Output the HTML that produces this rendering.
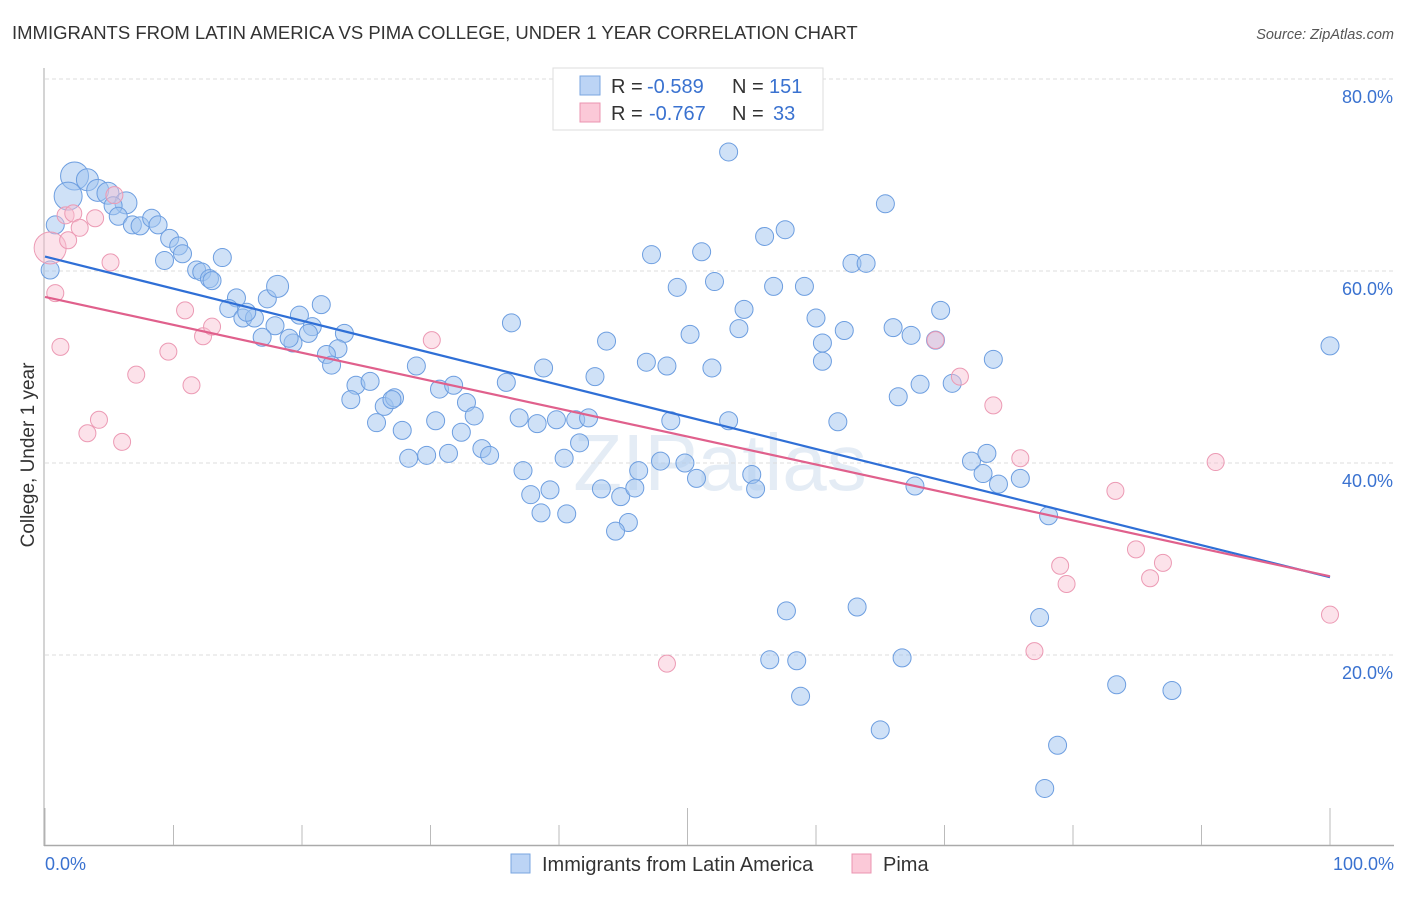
<!DOCTYPE html>
<html><head><meta charset="utf-8"><style>
body{margin:0;background:#fff;font-family:"Liberation Sans",sans-serif;}
svg text{font-family:"Liberation Sans",sans-serif;}
</style></head><body>
<svg id="chart" width="1406" height="892" xmlns="http://www.w3.org/2000/svg">
<text x="12" y="39" font-size="18.5" fill="#333">IMMIGRANTS FROM LATIN AMERICA VS PIMA COLLEGE, UNDER 1 YEAR CORRELATION CHART</text>
<text x="1394" y="39" font-size="14.5" fill="#555" font-style="italic" text-anchor="end">Source: ZipAtlas.com</text>
<text x="720" y="490" font-size="80" fill="#e4ecf5" text-anchor="middle" font-family="Liberation Serif">ZIPatlas</text>
<g id="grid"></g>
<g id="axes"></g>
<g id="marks"></g>
<text transform="translate(34,455) rotate(-90)" font-size="19" fill="#333" text-anchor="middle">College, Under 1 year</text>
<g>
<rect x="553" y="68" width="270" height="62" fill="#fff" stroke="#ddd"/>
<rect x="580" y="76" width="20" height="19" fill="#bcd4f5" stroke="#7aa6e0"/>
<rect x="580" y="103" width="20" height="19" fill="#fbc9d8" stroke="#eb94b0"/>
<text x="611" y="93" font-size="20" fill="#333">R =</text>
<text x="647" y="93" font-size="20" fill="#3a72d0">-0.589</text>
<text x="732" y="93" font-size="20" fill="#333">N =</text>
<text x="769" y="93" font-size="20" fill="#3a72d0">151</text>
<text x="611" y="120" font-size="20" fill="#333">R =</text>
<text x="649" y="120" font-size="20" fill="#3a72d0">-0.767</text>
<text x="732" y="120" font-size="20" fill="#333">N =</text>
<text x="773" y="120" font-size="20" fill="#3a72d0">33</text>
</g>
<g>
<rect x="511" y="854" width="19" height="19" fill="#bcd4f5" stroke="#7aa6e0"/>
<text x="542" y="871" font-size="20" fill="#333">Immigrants from Latin America</text>
<rect x="852" y="854" width="19" height="19" fill="#fbc9d8" stroke="#eb94b0"/>
<text x="883" y="871" font-size="20" fill="#333">Pima</text>
</g>
</svg>
<script>
const yTicks=[20,40,60,80];
const yTickLabels=["20.0%","40.0%","60.0%","80.0%"];
const blueX=[2.3,3.3,1.8,4.1,4.9,6.3,5.3,5.7,6.8,7.4,8.3,8.8,9.7,10.4,10.7,9.3,11.8,12.2,12.8,13.8,13.0,14.9,14.3,15.4,16.3,15.7,17.3,18.1,17.9,16.9,19.3,19.0,19.8,20.8,21.5,20.5,23.3,22.8,21.9,22.3,24.2,25.3,23.8,26.4,27.2,27.0,25.8,27.8,28.9,30.4,30.7,31.8,32.8,33.4,32.4,34.0,34.6,28.3,29.7,31.4,35.9,36.3,36.9,38.3,38.8,37.2,37.8,39.3,38.6,40.6,39.8,41.3,42.3,41.6,40.4,42.8,43.7,43.3,44.8,45.4,44.4,45.9,46.2,46.8,47.2,48.4,48.7,47.9,49.2,50.2,51.1,49.8,50.7,51.9,52.1,53.2,53.2,54.0,54.4,55.0,55.3,56.0,56.7,57.6,59.1,60.0,60.5,60.5,62.2,62.8,63.9,61.7,65.4,66.0,66.4,67.4,68.1,67.7,69.7,69.3,70.6,72.1,73.3,73.0,74.2,73.8,75.9,78.1,57.7,56.4,58.5,58.8,63.2,65.0,66.7,77.4,78.8,77.8,83.4,87.7,100,0.4,0.8];
const blueY=[69.9,69.5,67.8,68.4,68.1,67.1,66.8,65.7,64.8,64.7,65.5,64.8,63.4,62.6,61.8,61.1,60.1,59.9,59.2,61.4,59.0,57.2,56.1,55.1,55.1,55.7,57.1,58.4,54.3,53.1,52.5,53.0,55.4,54.2,56.5,53.5,53.5,51.9,51.3,50.2,48.1,48.5,46.6,45.9,46.8,46.6,44.2,43.4,50.1,44.4,47.7,48.1,46.3,44.9,43.2,41.5,40.8,40.5,40.8,41.0,48.4,54.6,44.7,44.1,49.9,39.2,36.7,37.2,34.8,34.7,44.5,44.5,44.7,42.1,40.5,49.0,52.7,37.3,36.5,33.8,32.9,37.4,39.2,50.5,61.7,50.1,44.4,40.2,58.3,53.4,62.0,40.0,38.4,49.9,58.9,44.4,72.4,54.0,56.0,38.8,37.3,63.6,58.4,64.3,58.4,55.1,52.5,50.6,53.8,60.8,60.8,44.3,67.0,54.1,46.9,53.3,48.2,37.6,55.9,52.8,48.3,40.2,41.0,38.9,37.8,50.8,38.4,34.5,24.6,19.5,19.4,15.7,25.0,12.2,19.7,23.9,10.6,6.1,16.9,16.3,52.2,60.1,64.8];
const blueSize=[3,2,3,2,2,2,1,1,1,1,1,1,1,1,1,1,1,1,1,1,1,1,1,1,1,1,1,2,1,1,1,1,1,1,1,1,1,1,1,1,1,1,1,1,1,1,1,1,1,1,1,1,1,1,1,1,1,1,1,1,1,1,1,1,1,1,1,1,1,1,1,1,1,1,1,1,1,1,1,1,1,1,1,1,1,1,1,1,1,1,1,1,1,1,1,1,1,1,1,1,1,1,1,1,1,1,1,1,1,1,1,1,1,1,1,1,1,1,1,1,1,1,1,1,1,1,1,1,1,1,1,1,1,1,1,1,1,1,1,1,1,1,1,1,4,3];
const pinkX=[0.4,0.8,1.2,1.6,2.2,2.7,1.8,3.3,4.2,5.1,6.0,7.1,9.6,10.9,11.4,12.3,13.0,3.9,5.4,30.1,48.4,69.3,71.2,73.8,75.9,79.0,79.5,77.0,83.3,84.9,86.0,87.0,91.1,100];
const pinkY=[62.4,57.7,52.1,65.8,66.0,64.5,63.2,43.1,44.5,60.9,42.2,49.2,51.6,55.9,48.1,53.2,54.2,65.5,67.9,52.8,19.1,52.8,49.0,46.0,40.5,29.3,27.4,20.4,37.1,31.0,28.0,29.6,40.1,24.2];
const blueTrend=[61.5,28.1];
const pinkTrend=[57.3,28.2];
const NS="http://www.w3.org/2000/svg";
const X0=45,X1=1330,Y80=79,PER=9.6;
function xs(v){return X0+(X1-X0)*v/100;}
function ys(v){return Y80+(80-v)*PER;}
function mk(t,a,p){const e=document.createElementNS(NS,t);for(const k in a)e.setAttribute(k,a[k]);p.appendChild(e);return e;}
const grid=document.getElementById('grid'),axes=document.getElementById('axes'),marks=document.getElementById('marks');
yTicks.forEach((t,i)=>{
 const l=mk('line',{x1:45,x2:1394,y1:ys(t),y2:ys(t),stroke:'#ddd','stroke-dasharray':'4,3'},grid);
 
 
 const tx=mk('text',{x:1393,y:ys(t)+24,'font-size':18,fill:'#3a72d0','text-anchor':'end'},axes);
 tx.textContent=yTickLabels[i];
 
 
});
const ax=mk('line',{x1:44,x2:44,y1:68,y2:846,stroke:'#aaa'},axes);


const bx=mk('line',{x1:44,x2:1394,y1:845.5,y2:845.5,stroke:'#aaa','stroke-width':1.5},axes);


for(let i=0;i<=10;i++){
 const long=(i==0||i==5||i==10);
 const t=mk('line',{x1:xs(i*10),x2:xs(i*10),y1:long?808:825,y2:845,stroke:'#bbb'},axes);
 
 
}
const xl0=mk('text',{x:45,y:870,'font-size':18,fill:'#3a72d0'},axes);xl0.textContent='0.0%';


const xl1=mk('text',{x:1394,y:870,'font-size':18,fill:'#3a72d0','text-anchor':'end'},axes);xl1.textContent='100.0%';


const rad=[0,9,11,14,18];
blueX.forEach((v,i)=>{
 const c=mk('circle',{cx:xs(v),cy:ys(blueY[i]),r:rad[blueSize[i]||1],fill:'rgba(160,196,240,0.5)',stroke:'#6d9ee0','stroke-width':1},marks);
 
 
});
pinkX.forEach((v,i)=>{
 const c=mk('circle',{cx:xs(v),cy:ys(pinkY[i]),r:i==0?16:8.5,fill:'rgba(248,190,208,0.45)',stroke:'#ec9ab4','stroke-width':1},marks);
 
 
});
const bl=mk('line',{x1:xs(0),y1:ys(blueTrend[0]),x2:xs(100),y2:ys(blueTrend[1]),stroke:'#2f6fd6','stroke-width':2.2},marks);


const pl=mk('line',{x1:xs(0),y1:ys(pinkTrend[0]),x2:xs(100),y2:ys(pinkTrend[1]),stroke:'#e0608c','stroke-width':2.2},marks);


</script>
</body></html>
